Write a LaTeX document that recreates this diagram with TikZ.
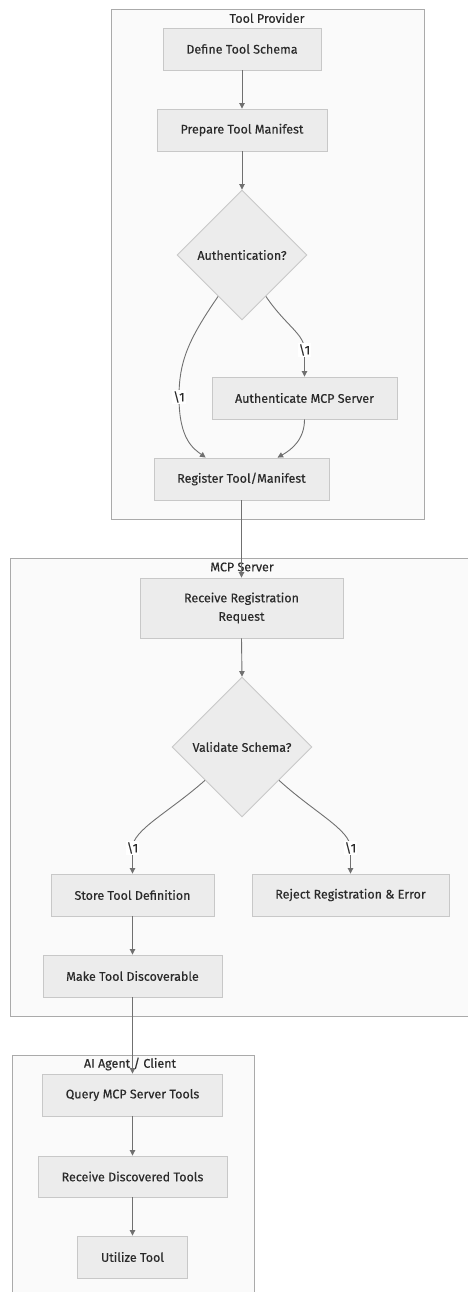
\documentclass[tikz,border=0pt]{standalone}
\usepackage{fontspec}
\setmainfont{Fira Sans}[UprightFeatures={FakeBold=0.3}]
\usetikzlibrary{shapes.geometric,arrows.meta,calc}
\definecolor{nodefill}{HTML}{ECECEC}
\definecolor{nodeline}{HTML}{C8C8C8}
\definecolor{clusterfill}{HTML}{FAFAFA}
\definecolor{clusterline}{HTML}{AAAAAA}
\definecolor{edgecol}{HTML}{707070}
\definecolor{txt}{HTML}{2A2A2A}
\tikzset{
  every node/.style={font=\fontsize{12.5}{18.5}\selectfont, text=txt},
  stepbox/.style={draw=nodeline, fill=nodefill, line width=0.9pt, rectangle,
    inner sep=0pt, align=center},
  decision/.style={draw=nodeline, fill=nodefill, line width=0.9pt, diamond,
    aspect=1, inner sep=0pt, minimum size=#1},
  cluster/.style={draw=clusterline, fill=clusterfill, line width=1pt, rectangle,
    inner sep=0pt},
  ctitle/.style={inner sep=0pt, anchor=center},
  edge/.style={draw=edgecol, line width=0.9pt,
    -{Triangle[length=5.5pt,width=5.5pt]}},
  elabel/.style={fill=white, inner sep=1pt, anchor=center},
}
\begin{document}
\begin{tikzpicture}[x=1pt, y=-1pt]
\useasboundingbox (0,0) rectangle (468,1292);

% subgraph frames
\node[cluster, minimum width=313pt, minimum height=510pt, anchor=north west] (tp) at (111,9) {};
\node[cluster, minimum width=459pt, minimum height=458pt, anchor=north west] (mcp) at (10,558) {};
\node[cluster, minimum width=242pt, minimum height=242pt, anchor=north west] (ai) at (12,1055) {};
\node[ctitle] (tpt) at (267,18) {Tool Provider};
\node[ctitle] (mcpt) at (242,567) {MCP Server};
\node[ctitle] (ait) at (130,1064) {AI Agent / Client};

% Tool Provider steps
\node[stepbox, minimum width=158pt, minimum height=42pt] (def) at (242,49) {Define Tool Schema};
\node[stepbox, minimum width=170pt, minimum height=42pt] (prep) at (242,130) {Prepare Tool Manifest};
\node[decision=130pt] (auth) at (242,255) {Authentication?};
\node[stepbox, minimum width=185pt, minimum height=42pt] (amcp) at (304.5,398) {Authenticate MCP Server};
\node[stepbox, minimum width=175pt, minimum height=42pt] (reg) at (241.5,479) {Register Tool/Manifest};

% MCP Server steps
\node[stepbox, minimum width=203pt, minimum height=60pt] (recv) at (241.5,608) {Receive Registration\\Request};
\node[decision=140pt] (val) at (242,747) {Validate Schema?};
\node[stepbox, minimum width=163pt, minimum height=42pt] (store) at (132.5,895) {Store Tool Definition};
\node[stepbox, minimum width=197pt, minimum height=42pt] (rej) at (350.5,895) {Reject Registration \& Error};
\node[stepbox, minimum width=179pt, minimum height=42pt] (make) at (132.5,976) {Make Tool Discoverable};

% AI Agent steps
\node[stepbox, minimum width=180pt, minimum height=42pt] (query) at (132.5,1095) {Query MCP Server Tools};
\node[stepbox, minimum width=189pt, minimum height=41pt] (rdisc) at (132.5,1176.5) {Receive Discovered Tools};
\node[stepbox, minimum width=110pt, minimum height=42pt] (use) at (132.5,1257) {Utilize Tool};

% connectors
\draw[edge] (def.south) -- (prep.north);
\draw[edge] (prep.south) -- (auth.north);
\draw[edge] (auth.240) .. controls (188,340) and (179,362) .. (179,397)
  node[elabel] {\textbackslash 1}
  .. controls (179,440) and (194,449) .. ([xshift=52pt]reg.north west);
\draw[edge] (auth.300) .. controls (286,326) and (304.5,334) .. (304.5,350)
  node[elabel] {\textbackslash 1} -- (amcp.north);
\draw[edge] (amcp.south) .. controls (304.5,440) and (291,450) .. ([xshift=124pt]reg.north west);
\draw[edge] (reg.south) -- (recv.north);
\draw[edge] (recv.south) -- (val.north);
\draw[edge] (val.222) .. controls (168,813) and (132.5,830) .. (132.5,848)
  node[elabel] {\textbackslash 1} -- (store.north);
\draw[edge] (val.318) .. controls (315,813) and (350.5,830) .. (350.5,848)
  node[elabel] {\textbackslash 1} -- (rej.north);
\draw[edge] (store.south) -- (make.north);
\draw[edge] (make.south) -- (query.north);
\draw[edge] (query.south) -- (rdisc.north);
\draw[edge] (rdisc.south) -- (use.north);
\end{tikzpicture}
\end{document}
